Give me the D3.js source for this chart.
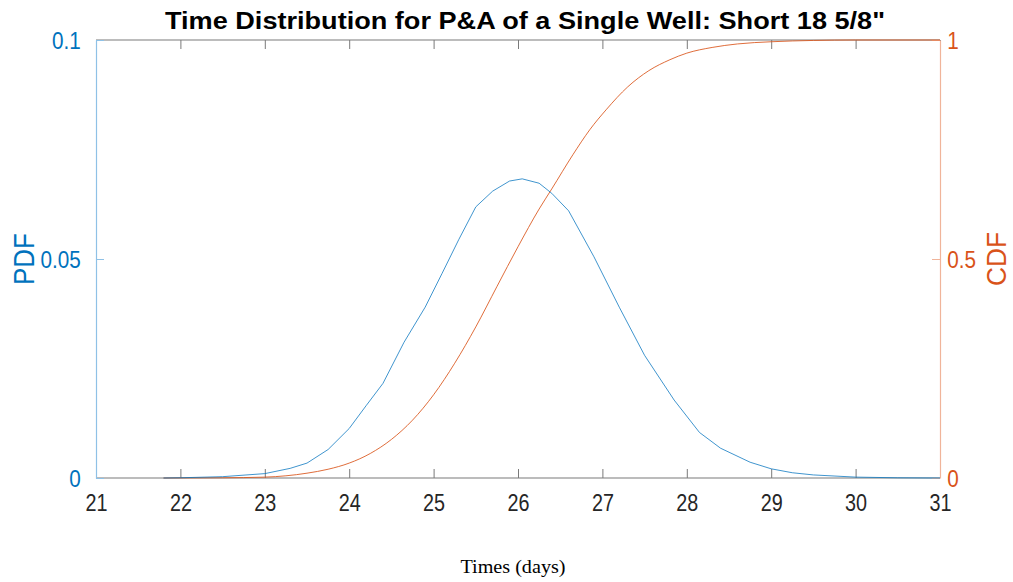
<!DOCTYPE html>
<html><head><meta charset="utf-8">
<script src="https://cdn.jsdelivr.net/npm/d3@7"></script>
<style>body{margin:0;background:#fff}svg{display:block}</style>
</head><body>
<svg id="c" width="1013" height="582"></svg>
<script>
// ---- data ----
const pdfDays = [21.8,22,22.5,23,23.3,23.5,23.75,24,24.2,24.4,24.65,24.9,25.1,25.3,25.5,25.7,25.9,26.05,26.25,26.4,26.6,26.9,27.2,27.5,27.85,28.15,28.4,28.75,29,29.25,29.5,30,30.5,31];
const pdfVals = [0,0.00005,0.0003,0.001,0.0022,0.0034,0.0065,0.0113,0.0165,0.0216,0.031,0.039,0.0467,0.0545,0.0619,0.0655,0.0678,0.0683,0.0673,0.065,0.061,0.0505,0.039,0.028,0.0178,0.0104,0.0068,0.0036,0.0021,0.0012,0.0007,0.0002,0.00005,0];
const cdfDays = [21.8,22.5,23,23.25,23.5,23.75,24,24.25,24.5,24.75,25,25.25,25.5,25.75,26,26.25,26.4,26.65,26.85,27.05,27.3,27.55,27.8,28,28.3,28.6,29,29.5,30,31];
const cdfVals = [0,0.0005,0.002,0.005,0.011,0.02,0.034,0.056,0.088,0.132,0.19,0.262,0.345,0.437,0.528,0.614,0.66,0.738,0.795,0.842,0.893,0.93,0.955,0.97,0.983,0.991,0.996,0.999,1,1];
const xTicks = [21,22,23,24,25,26,27,28,29,30,31];
const pdfTicks = [0,0.05,0.1];
const cdfTicks = [0,0.5,1];
const titleText = "Time Distribution for P&A of a Single Well: Short 18 5/8\"";

// ---- layout ----
const L=96, R=940, T=40, B=478;
const blue="#0072BD", orange="#D95319";
const svg=d3.select("#c");
const x=d3.scaleLinear().domain([21,31]).range([L,R]);
const yP=d3.scaleLinear().domain([0,0.1]).range([B,T]);
const yC=d3.scaleLinear().domain([0,1]).range([B,T]);

// box lines
svg.append("line").attr("x1",L).attr("x2",R).attr("y1",T).attr("y2",T).attr("stroke","#7a7a7a").attr("stroke-width",1.2);
svg.append("line").attr("x1",L).attr("x2",R).attr("y1",B).attr("y2",B).attr("stroke","#7a7a7a").attr("stroke-width",1.2);

// x ticks (inward, both top and bottom)
const gx=svg.append("g").attr("transform",`translate(0,${B})`)
  .call(d3.axisBottom(x).tickValues(xTicks).tickSizeInner(-9).tickSizeOuter(0).tickPadding(17).tickFormat(d3.format("d")));
gx.select(".domain").remove();
gx.selectAll(".tick line").attr("stroke","#7a7a7a");
gx.selectAll(".tick text").attr("font-family","Liberation Sans, Arial, sans-serif").attr("font-size",23).attr("fill","#262626")
  .attr("dy","0.71em").attr("transform","scale(0.86,1)");
const gxt=svg.append("g").attr("transform",`translate(0,${T})`)
  .call(d3.axisTop(x).tickValues(xTicks).tickSizeInner(-9).tickSizeOuter(0).tickFormat(""));
gxt.select(".domain").remove();
gxt.selectAll(".tick line").attr("stroke","#7a7a7a");

// left axis
const gl=svg.append("g").attr("transform",`translate(${L},0)`)
  .call(d3.axisLeft(yP).tickValues(pdfTicks).tickSizeInner(-8).tickSizeOuter(0).tickPadding(8).tickFormat(d=>d===0?"0":String(d)));
gl.select(".domain").attr("stroke","#8fc1e6").attr("stroke-width",1.2);
gl.selectAll(".tick line").attr("stroke","#8fc1e6");
gl.selectAll(".tick text").attr("font-family","Liberation Sans, Arial, sans-serif").attr("font-size",23).attr("fill",blue)
  .attr("transform","translate(-8,0) scale(0.9,1)").attr("dy","0.35em");

// right axis
const gr=svg.append("g").attr("transform",`translate(${R},0)`)
  .call(d3.axisRight(yC).tickValues(cdfTicks).tickSizeInner(-8).tickSizeOuter(0).tickPadding(8).tickFormat(d=>String(d)));
gr.select(".domain").attr("stroke","#f0b49a").attr("stroke-width",1.2);
gr.selectAll(".tick line").attr("stroke","#f0b49a");
gr.selectAll(".tick text").attr("font-family","Liberation Sans, Arial, sans-serif").attr("font-size",23).attr("fill",orange)
  .attr("transform","scale(0.9,1)").attr("dy","0.35em");

// curves
const pdfData=pdfDays.map((d,i)=>[d,pdfVals[i]]);
const cdfData=cdfDays.map((d,i)=>[d,cdfVals[i]]);
svg.append("path").datum(cdfData).attr("fill","none").attr("stroke",orange).attr("stroke-width",1).attr("opacity",0.85)
  .attr("d",d3.line().curve(d3.curveMonotoneX).x(d=>x(d[0])).y(d=>yC(d[1])));
svg.append("path").datum(pdfData).attr("fill","none").attr("stroke",blue).attr("stroke-width",1).attr("opacity",0.75)
  .attr("d",d3.line().x(d=>x(d[0])).y(d=>yP(d[1])));

// title
svg.append("text").attr("x",525).attr("y",29).attr("text-anchor","middle")
  .attr("font-family","Liberation Sans, Arial, sans-serif").attr("font-weight","bold").attr("font-size",23)
  .attr("textLength",720).attr("lengthAdjust","spacingAndGlyphs").text(titleText);

// axis labels
svg.append("text").attr("transform","translate(34,259) rotate(-90)").attr("text-anchor","middle")
  .attr("font-family","Liberation Sans, Arial, sans-serif").attr("font-size",29).attr("fill",blue)
  .attr("textLength",52).attr("lengthAdjust","spacingAndGlyphs").text("PDF");
svg.append("text").attr("transform","translate(1006,259) rotate(-90)").attr("text-anchor","middle")
  .attr("font-family","Liberation Sans, Arial, sans-serif").attr("font-size",27).attr("fill",orange)
  .attr("textLength",54).attr("lengthAdjust","spacingAndGlyphs").text("CDF");
svg.append("text").attr("x",513).attr("y",573).attr("text-anchor","middle")
  .attr("font-family","Liberation Serif, Times New Roman, serif").attr("font-size",18).attr("fill","#000")
  .attr("textLength",105).attr("lengthAdjust","spacingAndGlyphs").text("Times (days)");
</script>
</body></html>
